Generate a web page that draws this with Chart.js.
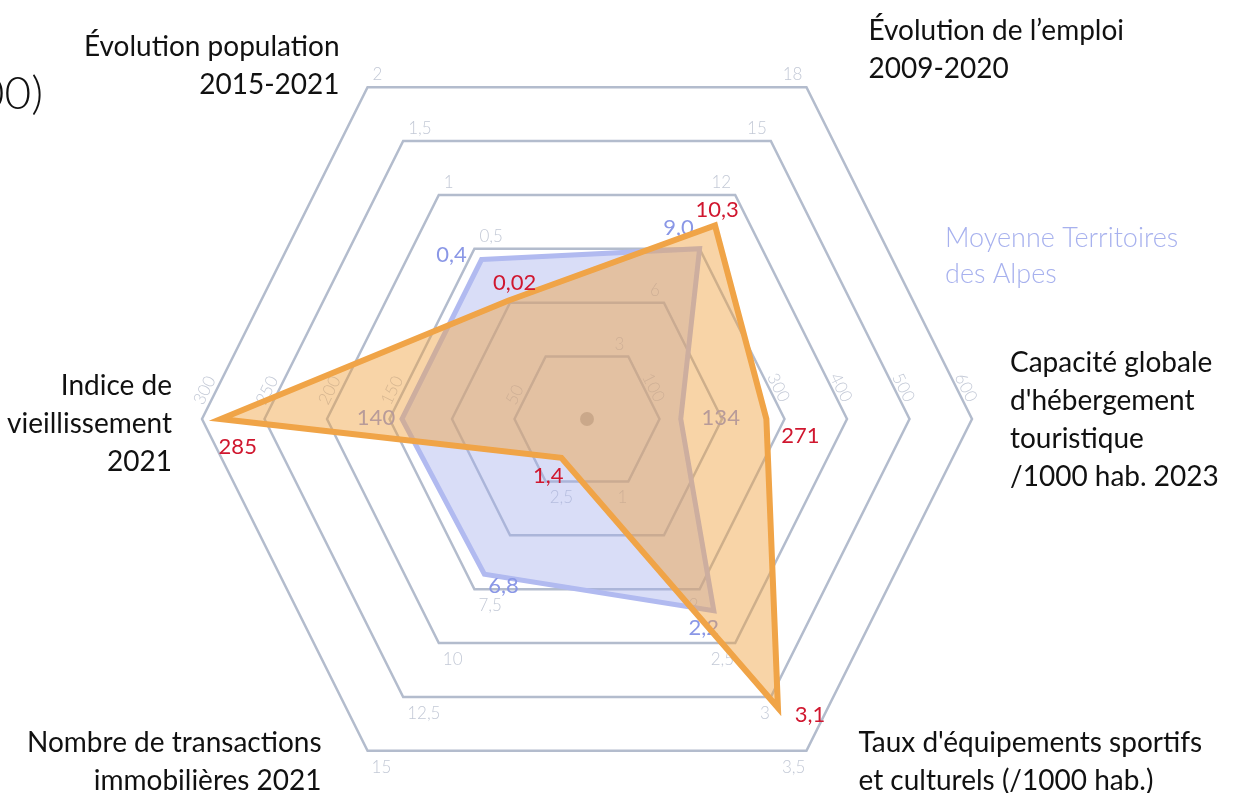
<!DOCTYPE html>
<html lang="fr">
<head>
<meta charset="utf-8">
<title>Radar territoire</title>
<script src="https://cdn.jsdelivr.net/npm/chart.js@4.4.0/dist/chart.umd.min.js"></script>
<style>
  html, body { margin: 0; padding: 0; background: #fff; overflow: hidden; }
  #wrap { position: relative; width: 1245px; height: 793px; overflow: hidden; }
</style>
</head>
<body>
<div id="wrap"><canvas id="radar" width="1245" height="830"></canvas></div>
<script>
// axes (dans l'ordre, en partant du haut gauche, sens horaire)
const axes = [
  ['Évolution population', '2015-2021'],
  ['Évolution de l’emploi', '2009-2020'],
  ['Capacité globale', "d'hébergement", 'touristique', '/1000 hab. 2023'],
  ["Taux d'équipements sportifs", 'et culturels (/1000 hab.)'],
  ['Nombre de transactions', 'immobilières 2021'],
  ['Indice de', 'vieillissement', '2021']
];
// bornes de chaque axe (centre -> anneau exterieur)
const axisMin = [-1, 0, 0, 0.5, 0, 0];
const axisMax = [2, 18, 600, 3.5, 15, 300];

const territoire = [0.02, 10.3, 271, 3.1, 1.4, 285];
const moyenneAlpes = [0.4, 9.0, 134, 2.2, 6.8, 140];

// graduations par axe, anneaux 1 a 6 ('' = non affichée)
const tickLabels = [
  ['', '', '0,5', '1', '1,5', '2'],
  ['3', '6', '', '12', '15', '18'],
  ['100', '', '300', '400', '500', '600'],
  ['1', '', '2', '2,5', '3', '3,5'],
  ['2,5', '', '7,5', '10', '12,5', '15'],
  ['50', '', '150', '200', '250', '300']
];
const labelDigits = [null, 1, 0, 1, 1, 0];
const RINGS = 6;

// hexagone un peu étiré comme sur l'original
const AXIS_DIR = [[-0.57, -0.862], [0.57, -0.862], [1, 0], [0.57, 0.862], [-0.57, 0.862], [-1, 0]];
class HexRadialScale extends Chart.RadialLinearScale {
  getPointPosition(index, distance, additionalAngle = 0) {
    const p = super.getPointPosition(index, distance, additionalAngle);
    const d = AXIS_DIR[index];
    if (!d || additionalAngle) return p;
    return { x: this.xCenter + d[0] * distance, y: this.yCenter + d[1] * distance, angle: p.angle };
  }
}
HexRadialScale.id = 'hexRadial';
HexRadialScale.defaults = Chart.RadialLinearScale.defaults;
Chart.register(HexRadialScale);

const font = (size, weight = 400) => `${weight} ${size}px Lato, "Open Sans", sans-serif`;
const norm = vals => vals.map((v, i) => (v - axisMin[i]) / (axisMax[i] - axisMin[i]) * RINGS);
const fmt = (v, i) => (labelDigits[i] == null ? String(v) : v.toFixed(labelDigits[i])).replace('.', ',');

const EDGE_ROT = Math.atan2(0.862, 0.43);

function drawTick(ctx, i, txt, p) {
  ctx.save();
  ctx.translate(p.x, p.y);
  if (i === 0) { ctx.textAlign = 'left'; ctx.fillText(txt, 5, -7); }
  else if (i === 1) { ctx.textAlign = 'right'; ctx.fillText(txt, -4, -7); }
  else if (i === 2) { ctx.rotate(EDGE_ROT); ctx.textAlign = 'right'; ctx.fillText(txt, -16, -3); }
  else if (i === 3) { ctx.textAlign = 'right'; ctx.fillText(txt, -1, 22); }
  else if (i === 4) { ctx.textAlign = 'left'; ctx.fillText(txt, 4, 22); }
  else { ctx.rotate(-EDGE_ROT); ctx.textAlign = 'left'; ctx.fillText(txt, 12, -5); }
  ctx.restore();
}

// position des libellés d'axe par rapport au sommet exterieur
const axisLabelPlace = [
  { align: 'right', dx: -28, dy: -31 },
  { align: 'left', dx: 62, dy: -47 },
  { align: 'left', dx: 38, dy: -47 },
  { align: 'left', dx: 52, dy: 1 },
  { align: 'right', dx: -46, dy: 1 },
  { align: 'right', dx: -30, dy: -24 }
];

const hexLabels = {
  id: 'hexLabels',
  beforeDatasetsDraw(chart) {
    const scale = chart.scales.r;
    const ctx = chart.ctx;
    ctx.save();
    ctx.fillStyle = '#b4b4b4';
    ctx.beginPath();
    ctx.arc(scale.xCenter, scale.yCenter, 7, 0, Math.PI * 2);
    ctx.fill();
    ctx.font = font(17, 300);
    ctx.fillStyle = '#c3c9d6';
    ctx.textBaseline = 'alphabetic';
    tickLabels.forEach((labels, i) => {
      labels.forEach((txt, k) => {
        if (!txt) return;
        const p = scale.getPointPosition(i, scale.getDistanceFromCenterForValue(k + 1));
        drawTick(ctx, i, txt, p);
      });
    });
    ctx.restore();
  },
  afterDatasetDraw(chart, args) {
    const ds = chart.data.datasets[args.index];
    const ctx = chart.ctx;
    ctx.save();
    ctx.font = font(22);
    ctx.fillStyle = ds.labelColor;
    ctx.textAlign = 'center';
    ctx.textBaseline = 'middle';
    args.meta.data.forEach((pt, i) => {
      const off = ds.labelOffsets[i];
      ctx.fillText(fmt(ds.rawValues[i], i), pt.x + off[0], pt.y + off[1]);
    });
    ctx.restore();
  },
  afterDraw(chart) {
    const scale = chart.scales.r;
    const ctx = chart.ctx;
    ctx.save();
    ctx.font = font(28);
    ctx.fillStyle = '#111';
    ctx.textBaseline = 'alphabetic';
    axes.forEach((lines, i) => {
      const p = scale.getPointPosition(i, scale.drawingArea);
      const pl = axisLabelPlace[i];
      ctx.textAlign = pl.align;
      lines.forEach((line, j) => ctx.fillText(line, p.x + pl.dx, p.y + pl.dy + j * 38));
    });
    // légende
    ctx.font = font(27, 300);
    ctx.fillStyle = '#a7b1ee';
    ctx.textAlign = 'left';
    ctx.fillText('Moyenne Territoires', 945, 247);
    ctx.fillText('des Alpes', 945, 283);
    // titre (coupé à gauche)
    ctx.font = font(46, 300);
    ctx.fillStyle = '#111';
    ctx.textAlign = 'right';
    ctx.fillText('(base 100)', 43, 109);
    ctx.restore();
  }
};

new Chart(document.getElementById('radar'), {
  type: 'radar',
  data: {
    labels: axes,
    datasets: [
      {
        label: 'Territoire',
        data: norm(territoire),
        rawValues: territoire,
        labelColor: '#d0172f',
        labelOffsets: [[6, -18], [2, -16], [34, 17], [32, 7], [-13, 18], [17, 28]],
        borderColor: '#f0a447',
        backgroundColor: 'rgba(240,160,60,0.45)',
        borderWidth: 6,
        borderJoinStyle: 'miter',
        fill: 'start',
        pointRadius: 0,
        order: 1
      },
      {
        label: 'Moyenne Territoires des Alpes',
        data: norm(moyenneAlpes),
        rawValues: moyenneAlpes,
        labelColor: '#8a97e6',
        labelOffsets: [[-30, -5], [-21, -21], [40, -1], [-10, 17], [19, 12], [-26, -1]],
        borderColor: '#b1baf0',
        backgroundColor: 'rgba(160,170,235,0.4)',
        borderWidth: 5,
        borderJoinStyle: 'miter',
        fill: 'start',
        pointRadius: 0,
        order: 2
      }
    ]
  },
  options: {
    responsive: false,
    animation: false,
    devicePixelRatio: 1,
    layout: { padding: { left: 0, right: 70, top: 34, bottom: 26 } },
    plugins: { legend: { display: false }, tooltip: { enabled: false } },
    scales: {
      r: {
        type: 'hexRadial',
        min: -0.16,
        max: RINGS,
        ticks: { display: false, stepSize: 1 },
        grid: { color: c => (c.tick && c.tick.value > 0.5 ? '#b3bccd' : 'transparent'), lineWidth: 2.5 },
        angleLines: { display: false },
        pointLabels: { display: false }
      }
    }
  },
  plugins: [hexLabels]
});
</script>
</body>
</html>
